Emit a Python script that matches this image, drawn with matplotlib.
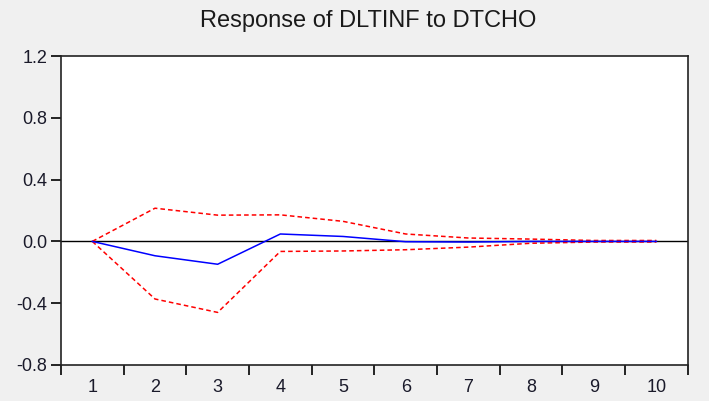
import matplotlib
matplotlib.use("Agg")
import matplotlib.pyplot as plt
import numpy as np

plt.rcParams['font.family'] = ['Liberation Sans', 'DejaVu Sans']

# impulse response and +/- 2 s.e. bands
periods = [1, 2, 3, 4, 5, 6, 7, 8, 9, 10]
response = [0.0, -0.093, -0.148, 0.048, 0.032, -0.002, -0.004, 0.0, 0.0, 0.0]
upper = [0.0, 0.215, 0.17, 0.172, 0.13, 0.048, 0.022, 0.015, 0.006, 0.006]
lower = [0.0, -0.373, -0.46, -0.065, -0.062, -0.054, -0.037, -0.012, -0.004, -0.004]
y_ticks = [-0.8, -0.4, 0.0, 0.4, 0.8, 1.2]

fig = plt.figure(figsize=(7.09, 4.01), dpi=100)
fig.patch.set_facecolor('#f0f0f0')
ax = fig.add_axes([0.086, 0.09, 0.884, 0.77])
ax.set_facecolor('white')

ax.axhline(0, color='black', lw=1.0, zorder=1)
ax.plot(periods, response, color='blue', lw=1.1, zorder=3)
ax.plot(periods, upper, color='red', lw=1.1, ls=(0, (3, 2)), zorder=2)
ax.plot(periods, lower, color='red', lw=1.1, ls=(0, (3, 2)), zorder=2)

ax.set_xlim(0.5, 10.5)
ax.set_ylim(-0.8, 1.2)
ax.set_yticks(y_ticks)
ax.set_yticklabels([f"{v:.1f}" for v in y_ticks])
ax.set_xticks(periods)
ax.set_xticks(np.arange(0.5, 11, 1.0), minor=True)
ax.tick_params(axis='x', which='major', length=0, pad=10, labelsize=13, labelcolor='#1a1a2a')
ax.tick_params(axis='x', which='minor', length=7, width=1.2, direction='out')
ax.tick_params(axis='y', length=7, width=1.2, direction='out', labelsize=13, pad=3,
               labelcolor='#1a1a2a')

for s in ax.spines.values():
    s.set_linewidth(1.2)
    s.set_color('#222222')

fig.suptitle("Response of DLTINF to DTCHO", x=0.52, y=0.975, fontsize=17, color='#1a1a1a')

fig.savefig("out.png", dpi=100, facecolor=fig.get_facecolor())
